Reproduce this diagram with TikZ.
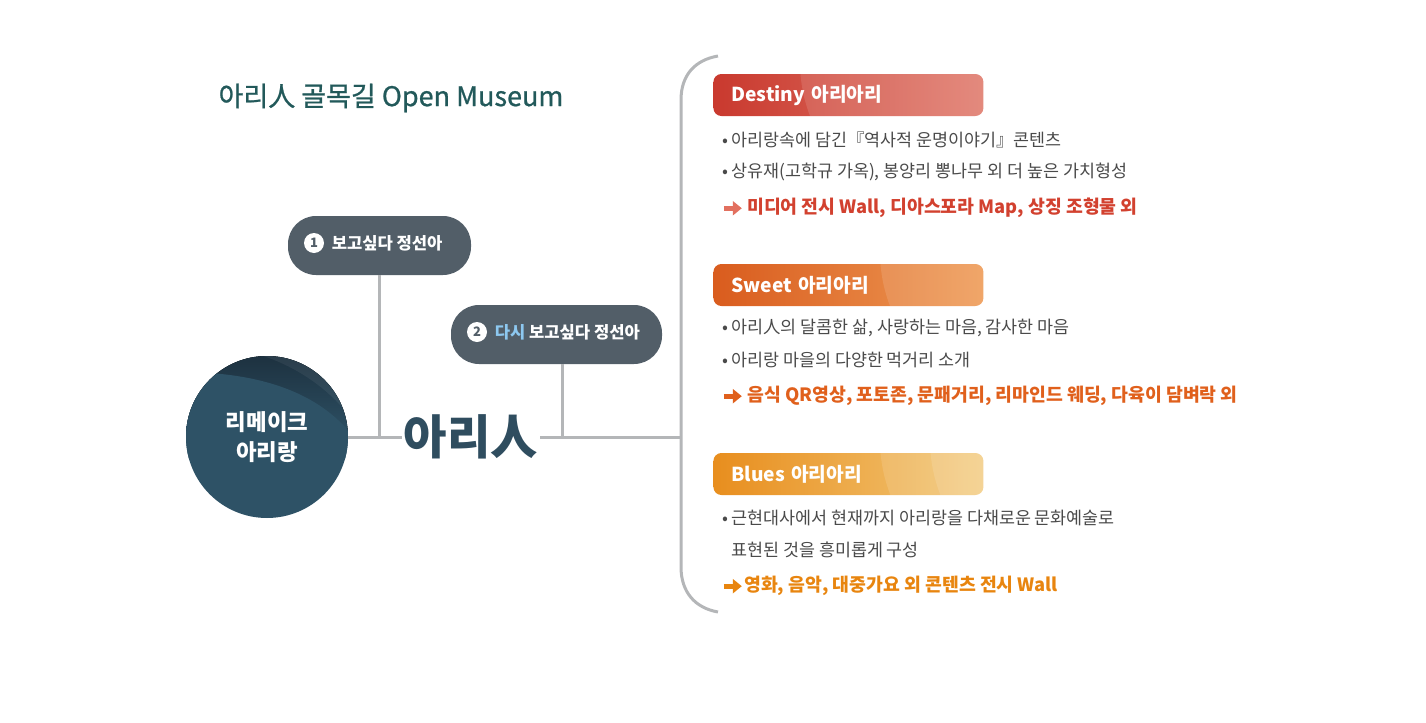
\documentclass[tikz,border=0pt]{standalone}
\usepackage{fontspec}
\setmainfont{Noto Sans CJK KR}
\newfontfamily\medfont{Noto Sans CJK KR}[FakeBold=0.8]
\usetikzlibrary{positioning,arrows.meta}

\definecolor{titlecol}{HTML}{22595A}
\definecolor{slate}{HTML}{525E68}
\definecolor{linegray}{HTML}{B4B6B8}
\definecolor{deepteal}{HTML}{2E5266}
\definecolor{darkteal}{HTML}{1C2F3D}
\definecolor{aricol}{HTML}{2F4D5F}
\definecolor{bodycol}{HTML}{4A4A4A}
\definecolor{skyblue}{HTML}{8DC8F0}
\definecolor{redA}{HTML}{C9392E}
\definecolor{redB}{HTML}{E07A6C}
\definecolor{redtext}{HTML}{D2412F}
\definecolor{redarrow}{HTML}{E2705F}
\definecolor{orangeA}{HTML}{D95C1E}
\definecolor{orangeB}{HTML}{EE9A55}
\definecolor{orangetext}{HTML}{E0601C}
\definecolor{yellowA}{HTML}{E88E1E}
\definecolor{yellowB}{HTML}{F2C878}
\definecolor{yellowtext}{HTML}{E8850F}

\newcommand\hintarrow[1]{\tikz[baseline=-0.55ex]\draw[#1,line width=2.4pt,-{Triangle[length=4.5pt,width=7pt]}] (0,0) -- (9pt,0);}

\begin{document}
\begin{tikzpicture}[x=0.5pt,y=-0.5pt]

\tikzset{
  link/.style={draw=linegray, line width=1.5pt},
  pill/.style={fill=slate, rounded corners=14pt, minimum width=#1, minimum height=29.5pt, inner sep=0pt},
  numdot/.style={circle, fill=white, text=slate, inner sep=0pt, minimum size=10pt,
    font=\fontsize{6.5}{7}\selectfont\bfseries},
  pilltext/.style={text=white, inner sep=1pt, anchor=west, font=\fontsize{8.3}{10}\selectfont\bfseries},
  header/.style 2 args={anchor=west, rounded corners=4pt, left color=#1, right color=#2,
    minimum width=134.5pt, minimum height=21pt, text width=117pt, inner xsep=9pt,
    align=left, text=white, font=\fontsize{9.6}{11}\selectfont\bfseries},
  body/.style={anchor=west, inner sep=0pt, text=bodycol, align=left,
    font=\fontsize{8.7}{16}\selectfont},
  hint/.style={anchor=west, inner sep=0pt, text=#1,
    font=\fontsize{9.15}{11}\selectfont\bfseries},
  sheen/.style={fill=white, opacity=.12}
}

\useasboundingbox (0,0) rectangle (1426,723);

% title
\node[text=titlecol, font=\fontsize{13.5}{16}\selectfont\medfont] (ttl) at (391,98) {아리人 골목길 Open Museum};

% left part
\node[circle, fill=deepteal, minimum size=81pt, inner sep=0pt] (remake) at (267,437) {};
\begin{scope}
  \clip (remake.center) circle (81);
  \fill[top color=darkteal, bottom color=deepteal] (180,350) rectangle (352,440);
  \fill[deepteal] (180,372) .. controls (265,372) and (320,395) .. (352,435) -- (352,460) -- (180,460) -- cycle;
  \fill[white, opacity=.06] (250,352) .. controls (300,365) and (335,395) .. (352,420) -- (352,350) -- cycle;
\end{scope}
\node[text=white, align=center, font=\fontsize{11.2}{15}\selectfont\bfseries] (remaketxt) at (remake.center) {리메이크\\아리랑};

\node[pill=91.5pt] (b1) at (379.5,245.5) {};
\node[numdot] (n1) at (314,243) {1};
\node[pilltext, right=2.5pt of n1] (t1) {보고싶다 정선아};

\node[pill=105.5pt] (b2) at (556.5,334.5) {};
\node[numdot] (n2) at (477,332) {2};
\node[pilltext, right=2.5pt of n2] (t2) {\textcolor{skyblue}{다시} 보고싶다 정선아};

\node[text=aricol, inner sep=1pt, font=\fontsize{23.6}{26}\selectfont\bfseries] (ari) at (471,437) {아리人};

\coordinate (brk) at (681,437);
\draw[link] (remake.east) -- (ari.west);
\draw[link] (b1.south) -- (b1.south |- ari.west);
\draw[link] (ari.east) -- (brk);
\draw[link] ([xshift=2.75pt]b2.south) -- ([xshift=2.75pt]b2.south |- ari.east);
\draw[link] (718,56) .. controls (695,60) and (681,75) .. (681,100) -- (681,567)
  .. controls (681,592) and (695,608) .. (718,612);

% Destiny
\node[header={redA}{redB}] (h1) at (713,95) {Destiny 아리아리};
\node[body] (d1) at (722,140) {\textbullet\,아리랑속에 담긴『역사적 운명이야기』콘텐츠};
\node[body] (d2) at (722,172) {\textbullet\,상유재(고학규 가옥), 봉양리 뽕나무 외 더 높은 가치형성};
\node[hint=redtext] (d3) at (721,208) {\hintarrow{redarrow}\hspace{1.5pt}미디어 전시 Wall, 디아스포라 Map, 상징 조형물 외};

% Sweet
\node[header={orangeA}{orangeB}] (h2) at (713,285) {Sweet 아리아리};
\node[body] (s1) at (722,328) {\textbullet\,아리人의 달콤한 삶, 사랑하는 마음, 감사한 마음};
\node[body] (s2) at (722,360) {\textbullet\,아리랑 마을의 다양한 먹거리 소개};
\node[hint=orangetext] (s3) at (721,396) {\hintarrow{orangetext}\hspace{1.5pt}음식 QR영상, 포토존, 문패거리, 리마인드 웨딩, 다육이 담벼락 외};

% Blues
\node[header={yellowA}{yellowB}] (h3) at (713,474) {Blues 아리아리};
\node[body] (u1) at (722,534) {\textbullet\,근현대사에서 현재까지 아리랑을 다채로운 문화예술로\\\phantom{\textbullet\,}표현된 것을 흥미롭게 구성};
\node[hint=yellowtext] (u3) at (721,586) {\hintarrow{yellowtext}영화, 음악, 대중가요 외 콘텐츠 전시 Wall};

% header sheen
\begin{scope}
  \clip[rounded corners=4pt] (h1.south west) rectangle (h1.north east);
  \fill[sheen] (950,62) circle (150);
\end{scope}
\begin{scope}
  \clip[rounded corners=4pt] (h2.south west) rectangle (h2.north east);
  \fill[sheen] (1030,252) circle (150);
\end{scope}
\begin{scope}
  \clip[rounded corners=4pt] (h3.south west) rectangle (h3.north east);
  \fill[sheen] (1030,440) circle (150);
  \fill[sheen] (1080,440) circle (150);
\end{scope}

\end{tikzpicture}
\end{document}
